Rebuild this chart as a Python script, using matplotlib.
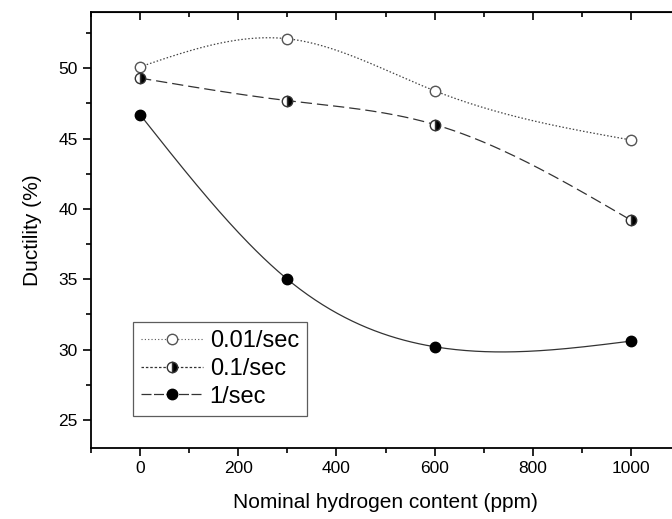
import numpy as np
import matplotlib
matplotlib.use("Agg")
import matplotlib.pyplot as plt
from matplotlib.lines import Line2D
from matplotlib.ticker import MultipleLocator

plt.rcParams['font.family'] = ['Liberation Sans', 'DejaVu Sans']

# data
hydrogen = [0, 300, 600, 1000]
duct_001 = [50.1, 52.1, 48.4, 44.9]
duct_01 = [49.3, 47.7, 46.0, 39.2]
duct_1 = [46.7, 35.0, 30.2, 30.6]
labels = ["0.01/sec", "0.1/sec", "1/sec"]


# natural cubic spline through the points (for the smooth connecting curve)
def spline(x, y, n=200):
    x = np.asarray(x, float)
    y = np.asarray(y, float)
    k = len(x)
    h = np.diff(x)
    A = np.zeros((k, k))
    b = np.zeros(k)
    A[0, 0] = A[-1, -1] = 1
    for i in range(1, k - 1):
        A[i, i - 1] = h[i - 1]
        A[i, i] = 2 * (h[i - 1] + h[i])
        A[i, i + 1] = h[i]
        b[i] = 6 * ((y[i + 1] - y[i]) / h[i] - (y[i] - y[i - 1]) / h[i - 1])
    m = np.linalg.solve(A, b)
    xs = np.linspace(x[0], x[-1], n)
    idx = np.clip(np.searchsorted(x, xs) - 1, 0, k - 2)
    x0, x1 = x[idx], x[idx + 1]
    hh = x1 - x0
    t0, t1 = x1 - xs, xs - x0
    ys = (m[idx] * t0 ** 3 + m[idx + 1] * t1 ** 3) / (6 * hh) \
        + (y[idx] / hh - m[idx] * hh / 6) * t0 \
        + (y[idx + 1] / hh - m[idx + 1] * hh / 6) * t1
    return xs, ys


fig = plt.figure(figsize=(6.72, 5.19), dpi=100)
# right spine falls outside the image, as in the original
ax = fig.add_axes([91 / 672, 1 - 448 / 519, 589 / 672, 436 / 519])

ms = 7.5
xs, ys = spline(hydrogen, duct_001)
ax.plot(xs, ys, color='#444444', lw=0.9, ls=(0, (1.2, 1.6)))
ax.plot(hydrogen, duct_001, 'o', ms=ms, mfc='white', mec='#555555', mew=1.0)

xs, ys = spline(hydrogen, duct_01)
ax.plot(xs, ys, color='#333333', lw=0.9, ls=(0, (9, 4)))
ax.plot(hydrogen, duct_01, 'o', ms=ms, fillstyle='right', color='black',
        markerfacecoloralt='white', mec='#333333', mew=1.0)

xs, ys = spline(hydrogen, duct_1)
ax.plot(xs, ys, color='#333333', lw=0.9)
ax.plot(hydrogen, duct_1, 'o', ms=ms, color='black')

ax.set_xlim(-100, 1100)
ax.set_ylim(23, 54)
ax.xaxis.set_major_locator(MultipleLocator(200))
ax.xaxis.set_minor_locator(MultipleLocator(100))
ax.yaxis.set_major_locator(MultipleLocator(5))
ax.yaxis.set_minor_locator(MultipleLocator(2.5))
ax.tick_params(which='both', direction='out', labelsize=12.5, width=1.2)
ax.tick_params(which='major', length=6)
ax.tick_params(which='minor', length=3.5)
for s in ax.spines.values():
    s.set_linewidth(1.3)

top = ax.secondary_xaxis('top')
top.xaxis.set_major_locator(MultipleLocator(200))
top.xaxis.set_minor_locator(MultipleLocator(100))
top.tick_params(which='both', direction='in', labeltop=False, width=1.2)
top.tick_params(which='major', length=6)
top.tick_params(which='minor', length=3.5)

ax.set_xlabel("Nominal hydrogen content (ppm)", fontsize=15, labelpad=12)
ax.set_ylabel("Ductility (%)", fontsize=15, labelpad=12)

handles = [
    Line2D([], [], color='#555555', lw=0.8, ls=(0, (1, 2)), marker='o',
           ms=ms, mfc='white', mec='#555555'),
    Line2D([], [], color='#333333', lw=0.9, ls=(0, (2, 1.5)), marker='o',
           ms=ms, fillstyle='right', markerfacecoloralt='white', mfc='black', mec='#333333'),
    Line2D([], [], color='#333333', lw=0.9, ls=(0, (8, 2)), marker='o',
           ms=ms, mfc='black', mec='black'),
]
leg = ax.legend(handles, labels, loc='lower left', bbox_to_anchor=(42 / 589, 32 / 436),
                fontsize=17, frameon=True, fancybox=False, edgecolor='#333333',
                handlelength=2.6, handletextpad=0.3, borderpad=0.35, labelspacing=0.25,
                borderaxespad=0)
leg.get_frame().set_linewidth(0.9)

fig.savefig("out.png", dpi=100)
